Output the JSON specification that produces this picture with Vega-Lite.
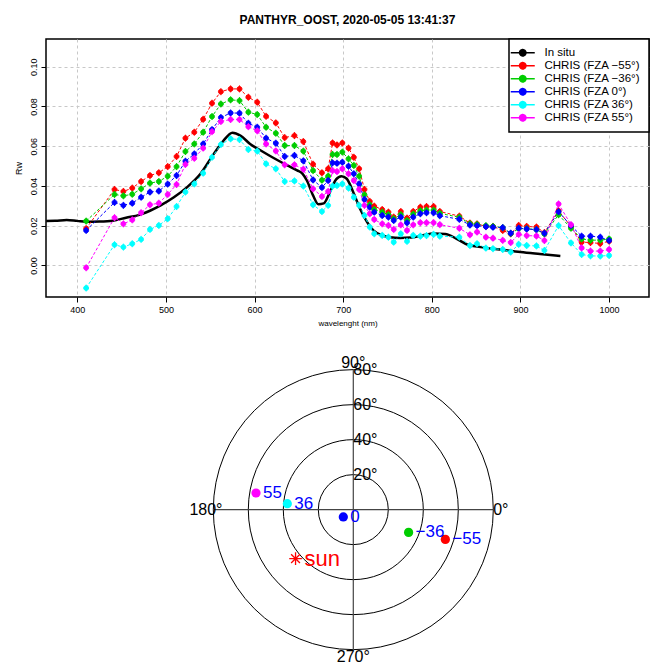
{
  "$schema": "https://vega.github.io/schema/vega-lite/v6.json",
  "padding": {"left": 13, "top": 13, "right": 0, "bottom": 0},
  "spacing": 20,
  "resolve": {"legend": {"color": "independent"}},
  "config": {
    "font": "Liberation Sans",
    "view": {"stroke": null},
    "axis": {"labelFont": "Liberation Sans", "titleFont": "Liberation Sans", "labelColor": "black", "titleColor": "black", "tickColor": "black", "titleFontWeight": "normal"},
    "legend": {"orient": "top-right", "offset": 0, "padding": 8, "strokeColor": "black", "fillColor": "white", "labelFontSize": 11.5, "labelFont": "Liberation Sans", "labelColor": "black", "symbolSize": 64, "symbolStrokeWidth": 1.5, "labelOffset": 16, "rowPadding": 0}
  },
  "datasets": {
    "insitu": [
      {"wl":365,"rw":0.0223},{"wl":375,"rw":0.0224},{"wl":388,"rw":0.0229},{"wl":400,"rw":0.0224},{"wl":410,"rw":0.0220},{"wl":425,"rw":0.0221},{"wl":440,"rw":0.0225},{"wl":455,"rw":0.0240},{"wl":470,"rw":0.0254},{"wl":482,"rw":0.0275},{"wl":494,"rw":0.0302},{"wl":509,"rw":0.0343},{"wl":524,"rw":0.0394},{"wl":539,"rw":0.0461},{"wl":554,"rw":0.0561},{"wl":565,"rw":0.0628},{"wl":575,"rw":0.0667},{"wl":584,"rw":0.0653},{"wl":595,"rw":0.0611},{"wl":607,"rw":0.0578},{"wl":622,"rw":0.0539},{"wl":637,"rw":0.0503},{"wl":648,"rw":0.0478},{"wl":654,"rw":0.0462},{"wl":659,"rw":0.0427},{"wl":666,"rw":0.0352},{"wl":672,"rw":0.0308},{"wl":678,"rw":0.0312},{"wl":685,"rw":0.0369},{"wl":692,"rw":0.0433},{"wl":698,"rw":0.0449},{"wl":704,"rw":0.0436},{"wl":711,"rw":0.0372},{"wl":719,"rw":0.0285},{"wl":727,"rw":0.0218},{"wl":734,"rw":0.0176},{"wl":744,"rw":0.0151},{"wl":753,"rw":0.0142},{"wl":764,"rw":0.0138},{"wl":776,"rw":0.0140},{"wl":790,"rw":0.0152},{"wl":802,"rw":0.0160},{"wl":815,"rw":0.0158},{"wl":828,"rw":0.0134},{"wl":840,"rw":0.0105},{"wl":855,"rw":0.0092},{"wl":877,"rw":0.0080},{"wl":900,"rw":0.0067},{"wl":922,"rw":0.0057},{"wl":945,"rw":0.0047}
    ],
    "chris": [
      {"wl":410,"CHRIS (FZA −55°)":0.0185,"CHRIS (FZA −36°)":0.0223,"CHRIS (FZA 0°)":0.0176,"CHRIS (FZA 36°)":-0.0114,"CHRIS (FZA 55°)":-0.0012},
      {"wl":442,"CHRIS (FZA −55°)":0.0382,"CHRIS (FZA −36°)":0.0357,"CHRIS (FZA 0°)":0.0317,"CHRIS (FZA 36°)":0.0104,"CHRIS (FZA 55°)":0.0240},
      {"wl":452,"CHRIS (FZA −55°)":0.0372,"CHRIS (FZA −36°)":0.0350,"CHRIS (FZA 0°)":0.0302,"CHRIS (FZA 36°)":0.0092,"CHRIS (FZA 55°)":0.0209},
      {"wl":462,"CHRIS (FZA −55°)":0.0389,"CHRIS (FZA −36°)":0.0358,"CHRIS (FZA 0°)":0.0313,"CHRIS (FZA 36°)":0.0109,"CHRIS (FZA 55°)":0.0229},
      {"wl":472,"CHRIS (FZA −55°)":0.0422,"CHRIS (FZA −36°)":0.0385,"CHRIS (FZA 0°)":0.0343,"CHRIS (FZA 36°)":0.0131,"CHRIS (FZA 55°)":0.0265},
      {"wl":482,"CHRIS (FZA −55°)":0.0452,"CHRIS (FZA −36°)":0.0414,"CHRIS (FZA 0°)":0.0369,"CHRIS (FZA 36°)":0.0181,"CHRIS (FZA 55°)":0.0305},
      {"wl":492,"CHRIS (FZA −55°)":0.0466,"CHRIS (FZA −36°)":0.0422,"CHRIS (FZA 0°)":0.0374,"CHRIS (FZA 36°)":0.0201,"CHRIS (FZA 55°)":0.0313},
      {"wl":502,"CHRIS (FZA −55°)":0.0497,"CHRIS (FZA −36°)":0.0449,"CHRIS (FZA 0°)":0.0409,"CHRIS (FZA 36°)":0.0235,"CHRIS (FZA 55°)":0.0357},
      {"wl":512,"CHRIS (FZA −55°)":0.0548,"CHRIS (FZA −36°)":0.0497,"CHRIS (FZA 0°)":0.0452,"CHRIS (FZA 36°)":0.0296,"CHRIS (FZA 55°)":0.0407},
      {"wl":522,"CHRIS (FZA −55°)":0.0640,"CHRIS (FZA −36°)":0.0573,"CHRIS (FZA 0°)":0.0524,"CHRIS (FZA 36°)":0.0369,"CHRIS (FZA 55°)":0.0508},
      {"wl":532,"CHRIS (FZA −55°)":0.0670,"CHRIS (FZA −36°)":0.0611,"CHRIS (FZA 0°)":0.0561,"CHRIS (FZA 36°)":0.0410,"CHRIS (FZA 55°)":0.0539},
      {"wl":542,"CHRIS (FZA −55°)":0.0735,"CHRIS (FZA −36°)":0.0670,"CHRIS (FZA 0°)":0.0611,"CHRIS (FZA 36°)":0.0464,"CHRIS (FZA 55°)":0.0590},
      {"wl":552,"CHRIS (FZA −55°)":0.0816,"CHRIS (FZA −36°)":0.0749,"CHRIS (FZA 0°)":0.0683,"CHRIS (FZA 36°)":0.0544,"CHRIS (FZA 55°)":0.0673},
      {"wl":562,"CHRIS (FZA −55°)":0.0874,"CHRIS (FZA −36°)":0.0812,"CHRIS (FZA 0°)":0.0744,"CHRIS (FZA 36°)":0.0608,"CHRIS (FZA 55°)":0.0724},
      {"wl":573,"CHRIS (FZA −55°)":0.0888,"CHRIS (FZA −36°)":0.0833,"CHRIS (FZA 0°)":0.0767,"CHRIS (FZA 36°)":0.0637,"CHRIS (FZA 55°)":0.0734},
      {"wl":583,"CHRIS (FZA −55°)":0.0888,"CHRIS (FZA −36°)":0.0829,"CHRIS (FZA 0°)":0.0766,"CHRIS (FZA 36°)":0.0633,"CHRIS (FZA 55°)":0.0734},
      {"wl":593,"CHRIS (FZA −55°)":0.0846,"CHRIS (FZA −36°)":0.0771,"CHRIS (FZA 0°)":0.0715,"CHRIS (FZA 36°)":0.0583,"CHRIS (FZA 55°)":0.0698},
      {"wl":603,"CHRIS (FZA −55°)":0.0821,"CHRIS (FZA −36°)":0.0759,"CHRIS (FZA 0°)":0.0695,"CHRIS (FZA 36°)":0.0575,"CHRIS (FZA 55°)":0.0677},
      {"wl":613,"CHRIS (FZA −55°)":0.0750,"CHRIS (FZA −36°)":0.0695,"CHRIS (FZA 0°)":0.0640,"CHRIS (FZA 36°)":0.0511,"CHRIS (FZA 55°)":0.0611},
      {"wl":624,"CHRIS (FZA −55°)":0.0717,"CHRIS (FZA −36°)":0.0665,"CHRIS (FZA 0°)":0.0615,"CHRIS (FZA 36°)":0.0486,"CHRIS (FZA 55°)":0.0576},
      {"wl":634,"CHRIS (FZA −55°)":0.0643,"CHRIS (FZA −36°)":0.0603,"CHRIS (FZA 0°)":0.0548,"CHRIS (FZA 36°)":0.0422,"CHRIS (FZA 55°)":0.0506},
      {"wl":645,"CHRIS (FZA −55°)":0.0653,"CHRIS (FZA −36°)":0.0603,"CHRIS (FZA 0°)":0.0553,"CHRIS (FZA 36°)":0.0425,"CHRIS (FZA 55°)":0.0506},
      {"wl":655,"CHRIS (FZA −55°)":0.0623,"CHRIS (FZA −36°)":0.0575,"CHRIS (FZA 0°)":0.0526,"CHRIS (FZA 36°)":0.0399,"CHRIS (FZA 55°)":0.0484},
      {"wl":666,"CHRIS (FZA −55°)":0.0509,"CHRIS (FZA −36°)":0.0477,"CHRIS (FZA 0°)":0.0430,"CHRIS (FZA 36°)":0.0305,"CHRIS (FZA 55°)":0.0385},
      {"wl":676,"CHRIS (FZA −55°)":0.0466,"CHRIS (FZA −36°)":0.0429,"CHRIS (FZA 0°)":0.0392,"CHRIS (FZA 36°)":0.0271,"CHRIS (FZA 55°)":0.0347},
      {"wl":683,"CHRIS (FZA −55°)":0.0486,"CHRIS (FZA −36°)":0.0449,"CHRIS (FZA 0°)":0.0427,"CHRIS (FZA 36°)":0.0302,"CHRIS (FZA 55°)":0.0372},
      {"wl":688,"CHRIS (FZA −55°)":0.0616,"CHRIS (FZA −36°)":0.0558,"CHRIS (FZA 0°)":0.0516,"CHRIS (FZA 36°)":0.0399,"CHRIS (FZA 55°)":0.0477},
      {"wl":693,"CHRIS (FZA −55°)":0.0606,"CHRIS (FZA −36°)":0.0558,"CHRIS (FZA 0°)":0.0514,"CHRIS (FZA 36°)":0.0402,"CHRIS (FZA 55°)":0.0472},
      {"wl":699,"CHRIS (FZA −55°)":0.0616,"CHRIS (FZA −36°)":0.0570,"CHRIS (FZA 0°)":0.0519,"CHRIS (FZA 36°)":0.0410,"CHRIS (FZA 55°)":0.0486},
      {"wl":706,"CHRIS (FZA −55°)":0.0590,"CHRIS (FZA −36°)":0.0536,"CHRIS (FZA 0°)":0.0499,"CHRIS (FZA 36°)":0.0389,"CHRIS (FZA 55°)":0.0461},
      {"wl":712,"CHRIS (FZA −55°)":0.0544,"CHRIS (FZA −36°)":0.0503,"CHRIS (FZA 0°)":0.0461,"CHRIS (FZA 36°)":0.0343,"CHRIS (FZA 55°)":0.0427},
      {"wl":718,"CHRIS (FZA −55°)":0.0486,"CHRIS (FZA −36°)":0.0449,"CHRIS (FZA 0°)":0.0410,"CHRIS (FZA 36°)":0.0302,"CHRIS (FZA 55°)":0.0382},
      {"wl":724,"CHRIS (FZA −55°)":0.0382,"CHRIS (FZA −36°)":0.0355,"CHRIS (FZA 0°)":0.0332,"CHRIS (FZA 36°)":0.0251,"CHRIS (FZA 55°)":0.0302},
      {"wl":730,"CHRIS (FZA −55°)":0.0322,"CHRIS (FZA −36°)":0.0305,"CHRIS (FZA 0°)":0.0293,"CHRIS (FZA 36°)":0.0193,"CHRIS (FZA 55°)":0.0260},
      {"wl":735,"CHRIS (FZA −55°)":0.0298,"CHRIS (FZA −36°)":0.0281,"CHRIS (FZA 0°)":0.0268,"CHRIS (FZA 36°)":0.0159,"CHRIS (FZA 55°)":0.0231},
      {"wl":744,"CHRIS (FZA −55°)":0.0281,"CHRIS (FZA −36°)":0.0268,"CHRIS (FZA 0°)":0.0251,"CHRIS (FZA 36°)":0.0151,"CHRIS (FZA 55°)":0.0209},
      {"wl":751,"CHRIS (FZA −55°)":0.0268,"CHRIS (FZA −36°)":0.0255,"CHRIS (FZA 0°)":0.0243,"CHRIS (FZA 36°)":0.0142,"CHRIS (FZA 55°)":0.0201},
      {"wl":757,"CHRIS (FZA −55°)":0.0243,"CHRIS (FZA −36°)":0.0235,"CHRIS (FZA 0°)":0.0226,"CHRIS (FZA 36°)":0.0117,"CHRIS (FZA 55°)":0.0181},
      {"wl":765,"CHRIS (FZA −55°)":0.0271,"CHRIS (FZA −36°)":0.0255,"CHRIS (FZA 0°)":0.0243,"CHRIS (FZA 36°)":0.0159,"CHRIS (FZA 55°)":0.0204},
      {"wl":772,"CHRIS (FZA −55°)":0.0238,"CHRIS (FZA −36°)":0.0226,"CHRIS (FZA 0°)":0.0214,"CHRIS (FZA 36°)":0.0121,"CHRIS (FZA 55°)":0.0176},
      {"wl":779,"CHRIS (FZA −55°)":0.0271,"CHRIS (FZA −36°)":0.0258,"CHRIS (FZA 0°)":0.0243,"CHRIS (FZA 36°)":0.0151,"CHRIS (FZA 55°)":0.0204},
      {"wl":787,"CHRIS (FZA −55°)":0.0293,"CHRIS (FZA −36°)":0.0275,"CHRIS (FZA 0°)":0.0260,"CHRIS (FZA 36°)":0.0147,"CHRIS (FZA 55°)":0.0215},
      {"wl":794,"CHRIS (FZA −55°)":0.0296,"CHRIS (FZA −36°)":0.0278,"CHRIS (FZA 0°)":0.0265,"CHRIS (FZA 36°)":0.0150,"CHRIS (FZA 55°)":0.0215},
      {"wl":802,"CHRIS (FZA −55°)":0.0296,"CHRIS (FZA −36°)":0.0278,"CHRIS (FZA 0°)":0.0265,"CHRIS (FZA 36°)":0.0156,"CHRIS (FZA 55°)":0.0215},
      {"wl":809,"CHRIS (FZA −55°)":0.0271,"CHRIS (FZA −36°)":0.0262,"CHRIS (FZA 0°)":0.0250,"CHRIS (FZA 36°)":0.0147,"CHRIS (FZA 55°)":0.0205},
      {"wl":831,"CHRIS (FZA −55°)":0.0248,"CHRIS (FZA −36°)":0.0242,"CHRIS (FZA 0°)":0.0232,"CHRIS (FZA 36°)":0.0142,"CHRIS (FZA 55°)":0.0187},
      {"wl":843,"CHRIS (FZA −55°)":0.0213,"CHRIS (FZA −36°)":0.0210,"CHRIS (FZA 0°)":0.0203,"CHRIS (FZA 36°)":0.0100,"CHRIS (FZA 55°)":0.0154},
      {"wl":851,"CHRIS (FZA −55°)":0.0209,"CHRIS (FZA −36°)":0.0206,"CHRIS (FZA 0°)":0.0200,"CHRIS (FZA 36°)":0.0109,"CHRIS (FZA 55°)":0.0168},
      {"wl":861,"CHRIS (FZA −55°)":0.0196,"CHRIS (FZA −36°)":0.0200,"CHRIS (FZA 0°)":0.0195,"CHRIS (FZA 36°)":0.0087,"CHRIS (FZA 55°)":0.0142},
      {"wl":869,"CHRIS (FZA −55°)":0.0196,"CHRIS (FZA −36°)":0.0196,"CHRIS (FZA 0°)":0.0192,"CHRIS (FZA 36°)":0.0084,"CHRIS (FZA 55°)":0.0137},
      {"wl":880,"CHRIS (FZA −55°)":0.0176,"CHRIS (FZA −36°)":0.0190,"CHRIS (FZA 0°)":0.0190,"CHRIS (FZA 36°)":0.0080,"CHRIS (FZA 55°)":0.0126},
      {"wl":889,"CHRIS (FZA −55°)":0.0159,"CHRIS (FZA −36°)":0.0160,"CHRIS (FZA 0°)":0.0162,"CHRIS (FZA 36°)":0.0067,"CHRIS (FZA 55°)":0.0115},
      {"wl":898,"CHRIS (FZA −55°)":0.0201,"CHRIS (FZA −36°)":0.0185,"CHRIS (FZA 0°)":0.0187,"CHRIS (FZA 36°)":0.0106,"CHRIS (FZA 55°)":0.0156},
      {"wl":907,"CHRIS (FZA −55°)":0.0196,"CHRIS (FZA −36°)":0.0185,"CHRIS (FZA 0°)":0.0183,"CHRIS (FZA 36°)":0.0100,"CHRIS (FZA 55°)":0.0150},
      {"wl":918,"CHRIS (FZA −55°)":0.0193,"CHRIS (FZA −36°)":0.0180,"CHRIS (FZA 0°)":0.0180,"CHRIS (FZA 36°)":0.0098,"CHRIS (FZA 55°)":0.0148},
      {"wl":927,"CHRIS (FZA −55°)":0.0165,"CHRIS (FZA −36°)":0.0158,"CHRIS (FZA 0°)":0.0162,"CHRIS (FZA 36°)":0.0075,"CHRIS (FZA 55°)":0.0125},
      {"wl":943,"CHRIS (FZA −55°)":0.0275,"CHRIS (FZA −36°)":0.0255,"CHRIS (FZA 0°)":0.0270,"CHRIS (FZA 36°)":0.0200,"CHRIS (FZA 55°)":0.0309},
      {"wl":957,"CHRIS (FZA −55°)":0.0195,"CHRIS (FZA −36°)":0.0187,"CHRIS (FZA 0°)":0.0200,"CHRIS (FZA 36°)":0.0113,"CHRIS (FZA 55°)":0.0205},
      {"wl":969,"CHRIS (FZA −55°)":0.0117,"CHRIS (FZA −36°)":0.0133,"CHRIS (FZA 0°)":0.0147,"CHRIS (FZA 36°)":0.0055,"CHRIS (FZA 55°)":0.0088},
      {"wl":979,"CHRIS (FZA −55°)":0.0115,"CHRIS (FZA −36°)":0.0127,"CHRIS (FZA 0°)":0.0147,"CHRIS (FZA 36°)":0.0048,"CHRIS (FZA 55°)":0.0072},
      {"wl":990,"CHRIS (FZA −55°)":0.0110,"CHRIS (FZA −36°)":0.0127,"CHRIS (FZA 0°)":0.0142,"CHRIS (FZA 36°)":0.0047,"CHRIS (FZA 55°)":0.0072},
      {"wl":1000,"CHRIS (FZA −55°)":0.0122,"CHRIS (FZA −36°)":0.0133,"CHRIS (FZA 0°)":0.0125,"CHRIS (FZA 36°)":0.0050,"CHRIS (FZA 55°)":0.0080}
    ],
    "rings": [{"ring":20,"x":0,"y":0},{"ring":40,"x":0,"y":0},{"ring":60,"x":0,"y":0},{"ring":80,"x":0,"y":0}],
    "ringlabels": [{"lab":"20°","x":0,"y":20},{"lab":"40°","x":0,"y":40},{"lab":"60°","x":0,"y":60},{"lab":"80°","x":0,"y":80}],
    "dirlabels": [{"lab":"0°","x":84.3,"y":0},{"lab":"90°","x":0,"y":84},{"lab":"180°","x":-84.2,"y":0},{"lab":"270°","x":0,"y":-84.3}],
    "polaraxes": [{"x":-80,"x2":80,"y":0,"y2":0},{"x":0,"x2":0,"y":-80,"y2":80}],
    "views": [{"fza":"−55","x":52.6,"y":-17.0},{"fza":"−36","x":31.6,"y":-13.0},{"fza":"0","x":-5.7,"y":-4.2},{"fza":"36","x":-37.7,"y":3.4},{"fza":"55","x":-55.6,"y":9.5}],
    "sun": [{"lab":"sun","x":-33,"y":-28}]
  },
  "vconcat": [
    {
      "width": 603,
      "height": 258,
      "view": {"stroke": "black", "strokeWidth": 1.5},
      "title": {"text": "PANTHYR_OOST, 2020-05-05 13:41:37", "fontSize": 12, "fontWeight": "bold", "font": "Liberation Sans", "baseline": "alphabetic", "offset": 2, "anchor": "middle", "color": "black"},
      "encoding": {
        "x": {"field": "wl", "type": "quantitative", "scale": {"domain": [364.7, 1045], "nice": false, "zero": false},
          "axis": {"values": [400,500,600,700,800,900,1000], "format": "d", "title": "wavelenght (nm)", "titleFontSize": 8, "titlePadding": 5, "labelFontSize": 9, "grid": true, "gridDash": [3,3], "gridColor": "#c8c8c8", "domain": false, "tickSize": 5, "labelPadding": 3}},
        "y": {"field": "rw", "type": "quantitative", "scale": {"domain": [-0.0159, 0.1139], "nice": false, "zero": false},
          "axis": {"values": [0,0.02,0.04,0.06,0.08,0.1], "format": ".2f", "title": "Rw", "titleFontSize": 9, "titlePadding": 6, "labelFontSize": 9, "labelAngle": 270, "labelAlign": "center", "labelBaseline": "bottom", "grid": true, "gridDash": [3,3], "gridColor": "#c8c8c8", "domain": false, "tickSize": 5, "labelPadding": 3}}
      },
      "layer": [
        {
          "data": {"name": "insitu"},
          "mark": {"type": "line", "strokeWidth": 2.5, "clip": true, "interpolate": "monotone"},
          "encoding": {
            "color": {"datum": "In situ", "type": "nominal",
              "scale": {"domain": ["In situ","CHRIS (FZA −55°)","CHRIS (FZA −36°)","CHRIS (FZA 0°)","CHRIS (FZA 36°)","CHRIS (FZA 55°)"], "range": ["#000000","#ff0000","#00cd00","#0000ff","#00ffff","#ff00ff"]},
              "legend": {"title": null, "orient": "top-right", "offset": 0, "symbolType": "M-3,0L3,0M-0.8,0A0.8,0.8,0,1,0,0.8,0A0.8,0.8,0,1,0,-0.8,0Z",
                "encode": {"symbols": {"update": {"fill": {"scale": "color", "field": "value"}, "stroke": {"scale": "color", "field": "value"}, "strokeDash": {"value": [1, 0]}, "opacity": {"value": 1}}}, "legend": {"update": {"strokeWidth": {"value": 1.5}}}}}}
          }
        },
        {
          "data": {"name": "chris"},
          "transform": [{"fold": ["CHRIS (FZA −55°)","CHRIS (FZA −36°)","CHRIS (FZA 0°)","CHRIS (FZA 36°)","CHRIS (FZA 55°)"], "as": ["series", "rw"]}],
          "mark": {"type": "line", "strokeWidth": 1, "strokeDash": [3, 2]},
          "encoding": {"color": {"field": "series", "type": "nominal",
            "legend": {"title": null, "orient": "top-right", "offset": 0, "symbolType": "M-3,0L3,0M-0.8,0A0.8,0.8,0,1,0,0.8,0A0.8,0.8,0,1,0,-0.8,0Z",
                "encode": {"symbols": {"update": {"fill": {"scale": "color", "field": "value"}, "stroke": {"scale": "color", "field": "value"}, "strokeDash": {"value": [1, 0]}, "opacity": {"value": 1}}}, "legend": {"update": {"strokeWidth": {"value": 1.5}}}}}}}
        },
        {
          "data": {"name": "chris"},
          "transform": [{"fold": ["CHRIS (FZA −55°)","CHRIS (FZA −36°)","CHRIS (FZA 0°)","CHRIS (FZA 36°)","CHRIS (FZA 55°)"], "as": ["series", "rw"]}],
          "mark": {"type": "point", "filled": true, "opacity": 1, "size": 49, "strokeWidth": 1, "shape": "M0,-1L0,1M-0.7,0A0.7,0.7,0,1,0,0.7,0A0.7,0.7,0,1,0,-0.7,0Z"},
          "encoding": {
            "color": {"field": "series", "type": "nominal",
              "legend": {"title": null, "orient": "top-right", "offset": 0, "symbolType": "M-3,0L3,0M-0.8,0A0.8,0.8,0,1,0,0.8,0A0.8,0.8,0,1,0,-0.8,0Z",
                "encode": {"symbols": {"update": {"fill": {"scale": "color", "field": "value"}, "stroke": {"scale": "color", "field": "value"}, "strokeDash": {"value": [1, 0]}, "opacity": {"value": 1}}}, "legend": {"update": {"strokeWidth": {"value": 1.5}}}}}},
            "stroke": {"field": "series", "type": "nominal", "legend": null,
              "scale": {"domain": ["CHRIS (FZA −55°)","CHRIS (FZA −36°)","CHRIS (FZA 0°)","CHRIS (FZA 36°)","CHRIS (FZA 55°)"], "range": ["#ff0000","#00cd00","#0000ff","#00ffff","#ff00ff"]}}
          }
        }
      ]
    },
    {
      "width": 600,
      "height": 320,
      "view": {"stroke": null},
      "encoding": {
        "x": {"field": "x", "type": "quantitative", "scale": {"domain": [-175.6, 167.26], "nice": false, "zero": false}, "axis": null},
        "y": {"field": "y", "type": "quantitative", "scale": {"domain": [-90.5, 92.36], "nice": false, "zero": false}, "axis": null}
      },
      "layer": [
        {
          "data": {"name": "rings"},
          "mark": {"type": "point", "shape": "circle", "filled": false, "stroke": "black", "strokeWidth": 1, "opacity": 1},
          "encoding": {
            "size": {"field": "ring", "type": "quantitative", "scale": {"type": "pow", "exponent": 2, "domain": [0, 80], "range": [0, 78400]}, "legend": null}
          }
        },
        {
          "data": {"name": "polaraxes"},
          "mark": {"type": "rule", "stroke": "#444444", "strokeWidth": 1.2},
          "encoding": {"x2": {"field": "x2"}, "y2": {"field": "y2"}}
        },
        {
          "data": {"name": "ringlabels"},
          "mark": {"type": "text", "align": "left", "baseline": "middle", "fontSize": 16, "color": "black", "font": "Liberation Sans"},
          "encoding": {"text": {"field": "lab"}}
        },
        {
          "data": {"name": "dirlabels"},
          "mark": {"type": "text", "align": "center", "baseline": "middle", "fontSize": 16, "color": "black", "font": "Liberation Sans"},
          "encoding": {"text": {"field": "lab"}}
        },
        {
          "data": {"name": "views"},
          "mark": {"type": "point", "shape": "circle", "filled": true, "opacity": 1, "size": 85},
          "encoding": {"fill": {"field": "fza", "type": "nominal", "legend": null, "scale": {"domain": ["−55","−36","0","36","55"], "range": ["#ff0000","#00cd00","#0000ff","#00ffff","#ff00ff"]}}}
        },
        {
          "data": {"name": "views"},
          "mark": {"type": "text", "align": "left", "baseline": "middle", "dx": 7, "fontSize": 17, "color": "#0000ff", "font": "Liberation Sans"},
          "encoding": {"text": {"field": "fza"}}
        },
        {
          "data": {"name": "sun"},
          "mark": {"type": "point", "filled": false, "stroke": "#ff0000", "strokeWidth": 1.3, "opacity": 1, "size": 160, "shape": "M-1,0L1,0M0,-1L0,1M-0.7,-0.7L0.7,0.7M-0.7,0.7L0.7,-0.7"}
        },
        {
          "data": {"name": "sun"},
          "mark": {"type": "text", "align": "left", "baseline": "middle", "dx": 9, "fontSize": 22, "color": "#ff0000", "font": "Liberation Sans"},
          "encoding": {"text": {"field": "lab"}}
        }
      ]
    }
  ]
}
